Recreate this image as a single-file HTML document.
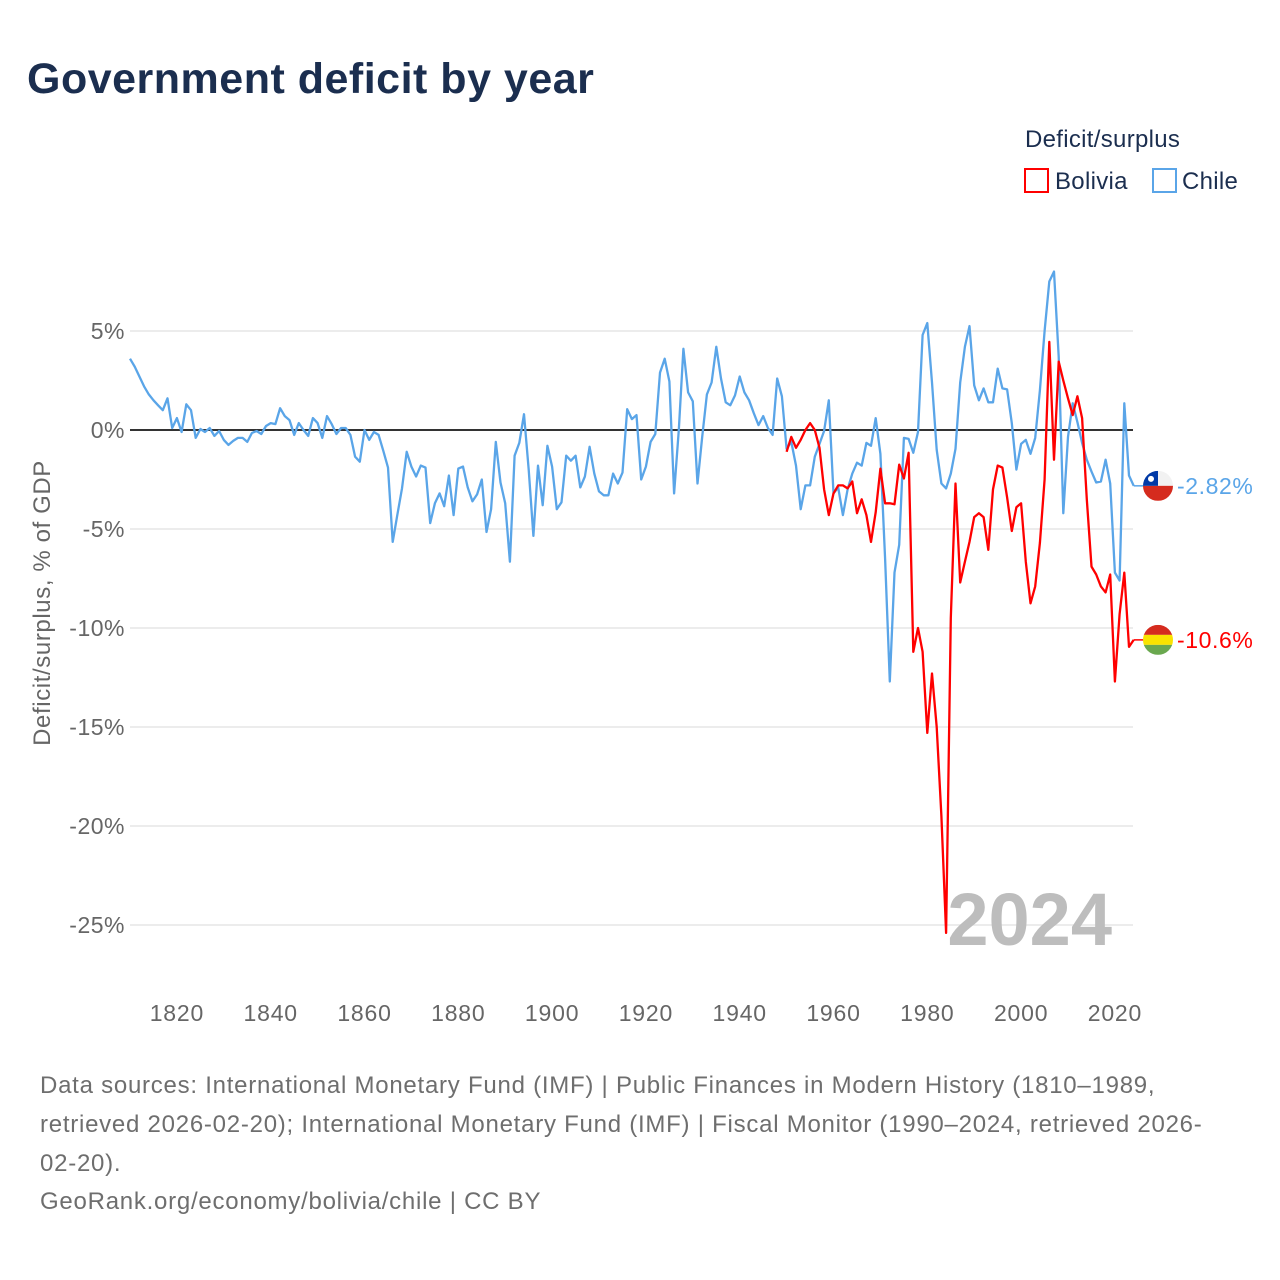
<!DOCTYPE html>
<html><head><meta charset="utf-8"><style>
body{margin:0;background:#fff;font-family:"Liberation Sans",sans-serif;}
#wrap{position:relative;width:1280px;height:1280px;overflow:hidden;background:#fff;}
svg{position:absolute;left:0;top:0;}
</style></head><body>
<div id="wrap">
<svg id="chart" width="1280" height="1280">
<text x="27" y="93" font-size="43" font-weight="bold" fill="#1b2e4f" letter-spacing="0.5">Government deficit by year</text>
<text x="1025" y="147" font-size="24" fill="#1b2e4f" letter-spacing="0.3">Deficit/surplus</text>
<g><rect x="1025" y="169" width="23" height="23" fill="#fff" stroke="#ff0000" stroke-width="2"/><text x="1055" y="189" font-size="24" fill="#1b2e4f" letter-spacing="0.3">Bolivia</text></g>
<g><rect x="1153" y="169" width="23" height="23" fill="#fff" stroke="#5aa5e8" stroke-width="2"/><text x="1182" y="189" font-size="24" fill="#1b2e4f" letter-spacing="0.3">Chile</text></g>
<g id="grid"></g><g id="yticks"></g><g id="xticks"></g>
<text x="1112" y="945" text-anchor="end" font-size="74" font-weight="bold" fill="#bdbdbd">2024</text>
<g id="series"></g>
<text transform="translate(50,603) rotate(-90)" text-anchor="middle" font-size="24" fill="#666" letter-spacing="0.6">Deficit/surplus, % of GDP</text>
<g font-size="24" fill="#6e6e6e" letter-spacing="0.75">
<text x="40" y="1093">Data sources: International Monetary Fund (IMF) | Public Finances in Modern History (1810–1989,</text>
<text x="40" y="1132">retrieved 2026-02-20); International Monetary Fund (IMF) | Fiscal Monitor (1990–2024, retrieved 2026-</text>
<text x="40" y="1171">02-20).</text>
<text x="40" y="1209">GeoRank.org/economy/bolivia/chile | CC BY</text>
</g>
</svg>
</div>
<script>
const chileStart = 1810;
const chileValues = [3.6,3.2,2.7,2.2,1.8,1.5,1.25,1.0,1.6,0.1,
0.6,-0.1,1.3,1.0,-0.4,0.05,-0.1,0.1,-0.3,-0.05,
-0.5,-0.75,-0.55,-0.4,-0.4,-0.6,-0.15,-0.05,-0.2,0.2,
0.35,0.3,1.1,0.7,0.5,-0.25,0.35,0,-0.3,0.6,
0.35,-0.4,0.7,0.3,-0.2,0.1,0.1,-0.25,-1.35,-1.6,
0,-0.5,-0.1,-0.25,-1.05,-1.9,-5.65,-4.3,-2.95,-1.1,
-1.85,-2.35,-1.8,-1.9,-4.7,-3.7,-3.2,-3.85,-2.3,-4.3,
-1.95,-1.85,-2.9,-3.6,-3.25,-2.5,-5.15,-4.0,-0.6,-2.65,
-3.7,-6.65,-1.3,-0.65,0.8,-2.0,-5.35,-1.8,-3.8,-0.8,
-1.85,-4.0,-3.65,-1.3,-1.55,-1.3,-2.9,-2.35,-0.85,-2.2,
-3.1,-3.3,-3.3,-2.2,-2.7,-2.15,1.05,0.55,0.75,-2.5,
-1.85,-0.6,-0.2,2.9,3.6,2.45,-3.2,0,4.1,1.9,
1.45,-2.7,-0.35,1.8,2.4,4.2,2.6,1.4,1.25,1.75,
2.7,1.9,1.5,0.85,0.25,0.7,0.1,-0.25,2.6,1.7,
-0.95,-0.6,-1.8,-4.0,-2.8,-2.8,-1.35,-0.7,-0.05,1.5,
-3.2,-2.9,-4.3,-3.0,-2.2,-1.65,-1.8,-0.65,-0.8,0.6,
-1.2,-6.5,-12.7,-7.2,-5.8,-0.4,-0.45,-1.15,-0.1,4.8,
5.4,2.4,-1.0,-2.7,-2.95,-2.2,-0.95,2.4,4.2,5.25,
2.25,1.5,2.1,1.4,1.4,3.1,2.1,2.05,0.35,-2.0,
-0.7,-0.5,-1.2,-0.4,2.0,5.0,7.5,8.0,3.7,-4.2,
-0.35,1.35,0.4,-0.65,-1.5,-2.1,-2.65,-2.6,-1.5,-2.7,
-7.2,-7.6,1.35,-2.3,-2.82];
const boliviaStart = 1950;
const boliviaValues = [-1.1,-0.35,-0.9,-0.5,0,0.35,0,-0.9,-3.0,-4.3,
-3.2,-2.8,-2.8,-2.95,-2.6,-4.2,-3.5,-4.3,-5.65,-4.15,
-1.95,-3.7,-3.7,-3.75,-1.75,-2.45,-1.15,-11.2,-10.0,-11.2,
-15.3,-12.3,-15.0,-19.5,-25.4,-9.5,-2.7,-7.7,-6.65,-5.65,
-4.4,-4.2,-4.4,-6.05,-3.0,-1.8,-1.9,-3.4,-5.1,-3.9,
-3.7,-6.65,-8.75,-7.9,-5.7,-2.5,4.45,-1.5,3.45,2.5,
1.6,0.75,1.7,0.6,-3.5,-6.9,-7.3,-7.9,-8.2,-7.3,
-12.7,-9.3,-7.2,-10.95,-10.6];
const yTicks = [5,0,-5,-10,-15,-20,-25];
const yTickLabels = ["5%","0%","-5%","-10%","-15%","-20%","-25%"];
const xTicks = [1820,1840,1860,1880,1900,1920,1940,1960,1980,2000,2020];
const endLabels = ["-2.82%","-10.6%"];

const NS="http://www.w3.org/2000/svg";
const X0=130, X1=1133.7, Y0=1810, Y1=2024;
function xs(y){return X0+(y-Y0)*(X1-X0)/(Y1-Y0);}
function ys(v){return 430-v*19.8;}
function mk(tag,attrs,parent){const e=document.createElementNS(NS,tag);for(const k in attrs)e.setAttribute(k,attrs[k]);parent.appendChild(e);return e;}
const grid=document.getElementById('grid'),yt=document.getElementById('yticks'),xt=document.getElementById('xticks'),ser=document.getElementById('series');
yTicks.forEach((v,i)=>{
  const l=mk('line',{x1:130,x2:1133,y1:ys(v),y2:ys(v),stroke:'#e6e6e6','stroke-width':1.5},grid);
  
  
  const t=mk('text',{x:125,y:ys(v)+8,'text-anchor':'end','font-size':23,fill:'#666','letter-spacing':0.5},yt);
  t.textContent=yTickLabels[i];
  
  
});
xTicks.forEach(v=>{
  const t=mk('text',{x:xs(v),y:1021,'text-anchor':'middle','font-size':23,fill:'#666','letter-spacing':0.8},xt);
  t.textContent=v;
  
  
});
const zl=mk('line',{x1:130,x2:1133,y1:ys(0),y2:ys(0),stroke:'#333','stroke-width':2},grid);


function series(start,vals,color,name){
  const pts=vals.map((v,i)=>xs(start+i).toFixed(1)+','+ys(v).toFixed(1)).join(' ');
  const p=mk('polyline',{points:pts,fill:'none',stroke:color,'stroke-width':2.3,'stroke-linejoin':'round'},ser);
  
  
  const last=vals[vals.length-1], ly=ys(last);
  mk('line',{x1:xs(start+vals.length-1),x2:1145,y1:ly,y2:ly,stroke:color,'stroke-width':1.5},ser);
  return ly;
}
const cy=series(chileStart,chileValues,'#5aa5e8','chile-line');
const by=series(boliviaStart,boliviaValues,'#ff0000','bolivia-line');
const defs=mk('defs',{},ser);
const c1=mk('clipPath',{id:'cf1'},defs);mk('circle',{cx:1158,cy:cy,r:15},c1);
const c2=mk('clipPath',{id:'cf2'},defs);mk('circle',{cx:1158,cy:by,r:15},c2);
const fc=mk('g',{'clip-path':'url(#cf1)'},ser);


mk('rect',{x:1143,y:cy-15,width:30,height:15,fill:'#f2f2f2'},fc);
mk('rect',{x:1143,y:cy,width:30,height:15,fill:'#d52b1e'},fc);
mk('rect',{x:1143,y:cy-15,width:15,height:15,fill:'#0039a6'},fc);
mk('circle',{cx:1151,cy:cy-7,r:3,fill:'#fff'},fc);
const fb=mk('g',{'clip-path':'url(#cf2)'},ser);


mk('rect',{x:1143,y:by-15,width:30,height:10,fill:'#d52b1e'},fb);
mk('rect',{x:1143,y:by-5,width:30,height:10,fill:'#f9e300'},fb);
mk('rect',{x:1143,y:by+5,width:30,height:10,fill:'#6aa84f'},fb);
const t1=mk('text',{x:1177,y:cy+8,'font-size':23,fill:'#5aa5e8','letter-spacing':0.6},ser);
t1.textContent=endLabels[0];


const t2=mk('text',{x:1177,y:by+8,'font-size':23,fill:'#ff0000','letter-spacing':0.6},ser);
t2.textContent=endLabels[1];


</script>
</body></html>
